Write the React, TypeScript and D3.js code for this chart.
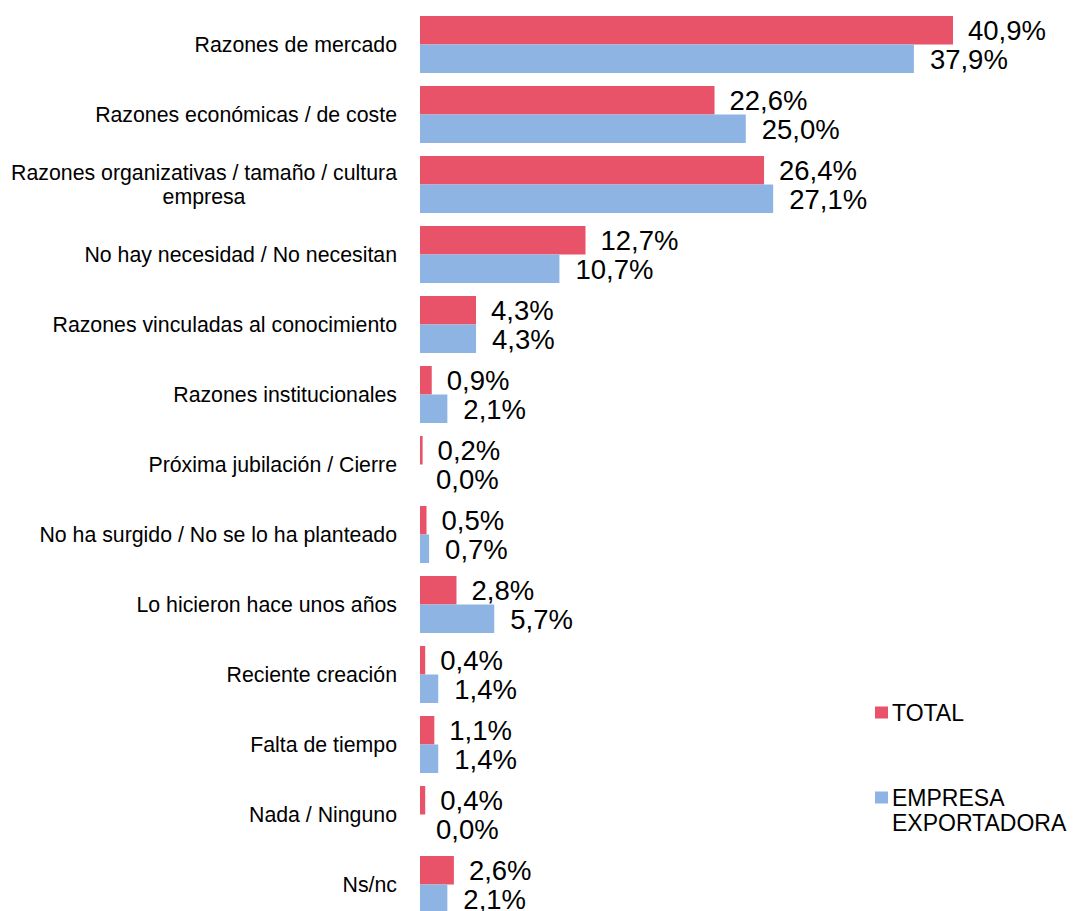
import React, { useEffect, useRef } from "react";
import * as d3 from "d3";

const categories = [
  "Razones de mercado",
  "Razones económicas / de coste",
  "Razones organizativas / tamaño / cultura empresa",
  "No hay necesidad / No necesitan",
  "Razones vinculadas al conocimiento",
  "Razones institucionales",
  "Próxima jubilación / Cierre",
  "No ha surgido / No se lo ha planteado",
  "Lo hicieron hace unos años",
  "Reciente creación",
  "Falta de tiempo",
  "Nada / Ninguno",
  "Ns/nc",
];
const totalValues = [40.9, 22.6, 26.4, 12.7, 4.3, 0.9, 0.2, 0.5, 2.8, 0.4, 1.1, 0.4, 2.6];
const exportValues = [37.9, 25.0, 27.1, 10.7, 4.3, 2.1, 0.0, 0.7, 5.7, 1.4, 1.4, 0.0, 2.1];
const seriesNames = ["TOTAL", "EMPRESA EXPORTADORA"];
const seriesColors = ["#E9536A", "#8EB4E3"];

const W = 1079;
const H = 911;
const FONT = "'Liberation Sans', Arial, sans-serif";

export default function App() {
  const ref = useRef<SVGSVGElement>(null);
  useEffect(() => {
    const svg = d3.select(ref.current);
    svg.selectAll("*").remove();

    const x = d3.scaleLinear().domain([0, 40.9]).range([420, 953]);
    const y = d3
      .scaleBand<string>()
      .domain(categories)
      .range([9.5, 919.5])
      .paddingInner(13 / 70)
      .paddingOuter(13 / 140);
    const sub = d3.scaleBand<number>().domain([0, 1]).range([0, y.bandwidth()]);

    const series = [totalValues, exportValues];
    const fmt = (v: number) => v.toFixed(1).replace(".", ",") + "%";

    series.forEach((vals, si) => {
      const g = svg.append("g");
      g.selectAll("rect")
        .data(vals)
        .join("rect")
        .attr("x", x(0))
        .attr("y", (_, i) => (y(categories[i]) as number) + (sub(si) as number))
        .attr("width", (d) => x(d) - x(0))
        .attr("height", sub.bandwidth())
        .attr("fill", seriesColors[si]);
      g.selectAll("text")
        .data(vals)
        .join("text")
        .attr("x", (d) => x(d) + (si === 0 ? 15 : 16))
        .attr("y", (_, i) => (y(categories[i]) as number) + (sub(si) as number) + sub.bandwidth() / 2)
        .attr("dy", "0.36em")
        .attr("font-family", FONT)
        .attr("font-size", 27.5)
        .attr("fill", "#000")
        .text((d) => fmt(d));
    });

    // category labels
    const labelX = 397;
    const lg = svg.append("g");
    categories.forEach((c) => {
      const cy = (y(c) as number) + y.bandwidth() / 2;
      const t = lg
        .append("text")
        .attr("font-family", FONT)
        .attr("font-size", 21.3)
        .attr("fill", "#000");
      const words = c.split(" ");
      const lines: string[] = [];
      let cur = "";
      const probe = t.append("tspan");
      words.forEach((w) => {
        const test = cur ? cur + " " + w : w;
        probe.text(test);
        if ((probe.node() as SVGTSpanElement).getComputedTextLength() > 392 && cur) {
          lines.push(cur);
          cur = w;
        } else cur = test;
      });
      lines.push(cur);
      probe.remove();
      const lh = 24;
      if (lines.length === 1) {
        t.attr("x", labelX).attr("y", cy).attr("dy", "0.36em").attr("text-anchor", "end").text(c);
      } else {
        const m = t.append("tspan").text(lines[0]);
        const w0 = (m.node() as SVGTSpanElement).getComputedTextLength();
        m.remove();
        const cx = labelX - w0 / 2;
        lines.forEach((ln, li) => {
          t.append("tspan")
            .attr("x", cx)
            .attr("y", cy + (li - (lines.length - 1) / 2) * lh)
            .attr("dy", "0.36em")
            .attr("text-anchor", "middle")
            .text(ln);
        });
      }
    });

    // legend
    const leg = svg.append("g");
    const legY = [712.5, 797.5];
    seriesNames.forEach((name, si) => {
      leg.append("rect")
        .attr("x", 875)
        .attr("y", legY[si] - 6)
        .attr("width", 13)
        .attr("height", 12)
        .attr("fill", seriesColors[si]);
      const t = leg.append("text")
        .attr("font-family", FONT)
        .attr("font-size", 23)
        .attr("fill", "#000");
      const parts = name.split(" ");
      parts.forEach((p, pi) => {
        t.append("tspan")
          .attr("x", 892)
          .attr("y", legY[si] + pi * 25.5)
          .attr("dy", "0.36em")
          .text(p);
      });
    });
  }, []);
  return (
    <svg
      ref={ref}
      width={W}
      height={H}
      style={{ position: "absolute", left: 0, top: 0, background: "#fff" }}
    />
  );
}
